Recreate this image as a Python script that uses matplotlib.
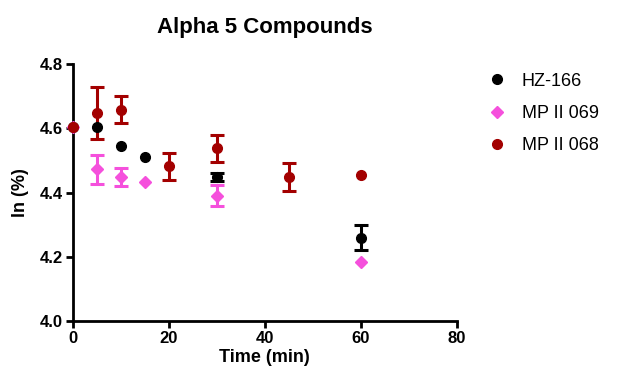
import matplotlib
matplotlib.use("Agg")
import matplotlib.pyplot as plt

plt.rcParams['font.family'] = ['Liberation Sans', 'DejaVu Sans']

# data (0 error = no error bar drawn)
hz_t = [0, 5, 10, 15, 30, 60]
hz_y = [4.605, 4.604, 4.545, 4.510, 4.448, 4.260]
hz_err = [0, 0, 0, 0, 0.012, 0.040]

mp069_t = [0, 5, 10, 15, 30, 60]
mp069_y = [4.605, 4.472, 4.448, 4.433, 4.390, 4.185]
mp069_err = [0, 0.046, 0.028, 0, 0.032, 0]

mp068_t = [0, 5, 10, 20, 30, 45, 60]
mp068_y = [4.605, 4.647, 4.658, 4.482, 4.538, 4.448, 4.454]
mp068_err = [0, 0.080, 0.043, 0.042, 0.042, 0.043, 0]

x_ticks = [0, 20, 40, 60, 80]
y_ticks = [4.0, 4.2, 4.4, 4.6, 4.8]

fig = plt.figure(figsize=(6.18, 3.79), dpi=100)
ax = fig.add_axes([0.118, 0.153, 0.621, 0.678])

series = [
    (hz_t, hz_y, hz_err, 'HZ-166', 'black', 'o', 7),
    (mp069_t, mp069_y, mp069_err, 'MP II 069', '#F550DC', 'D', 6.2),
    (mp068_t, mp068_y, mp068_err, 'MP II 068', '#A30000', 'o', 7),
]
handles = []
for t, y, e, name, col, mk, ms in series:
    # error bars only where there is an error
    et = [a for a, b in zip(t, e) if b > 0]
    ey = [a for a, b in zip(y, e) if b > 0]
    ee = [b for b in e if b > 0]
    eb = ax.errorbar(et, ey, yerr=ee, fmt='none', ecolor=col,
                     elinewidth=2.2, capsize=4.8, capthick=2.2, zorder=3)
    for art in eb.lines[1] + eb.lines[2]:
        art.set_clip_on(False)
    h, = ax.plot(t, y, mk, color=col, ms=ms, mec=col, label=name,
                 clip_on=False, zorder=4)
    handles.append(h)

ax.set_xlim(0, 80)
ax.set_ylim(4.0, 4.8)
ax.set_xticks(x_ticks)
ax.set_yticks(y_ticks)
ax.set_yticklabels([f'{v:.1f}' for v in y_ticks])

for s in ['top', 'right']:
    ax.spines[s].set_visible(False)
for s in ['left', 'bottom']:
    ax.spines[s].set_linewidth(2)
ax.tick_params(width=2, length=5, labelsize=12, pad=2)
for lab in ax.get_xticklabels() + ax.get_yticklabels():
    lab.set_fontweight('bold')

ax.set_xlabel('Time (min)', fontsize=13, fontweight='bold', labelpad=2)
ax.set_ylabel('ln (%)', fontsize=13, fontweight='bold', labelpad=8)
ax.set_title('Alpha 5 Compounds', fontsize=16, fontweight='bold', pad=22)

ax.legend(handles=handles, loc='upper left', bbox_to_anchor=(1.035, 1.03),
          frameon=False, fontsize=13, handletextpad=0.75, labelspacing=0.85,
          handlelength=1.2)

fig.savefig('out.png', dpi=100)
